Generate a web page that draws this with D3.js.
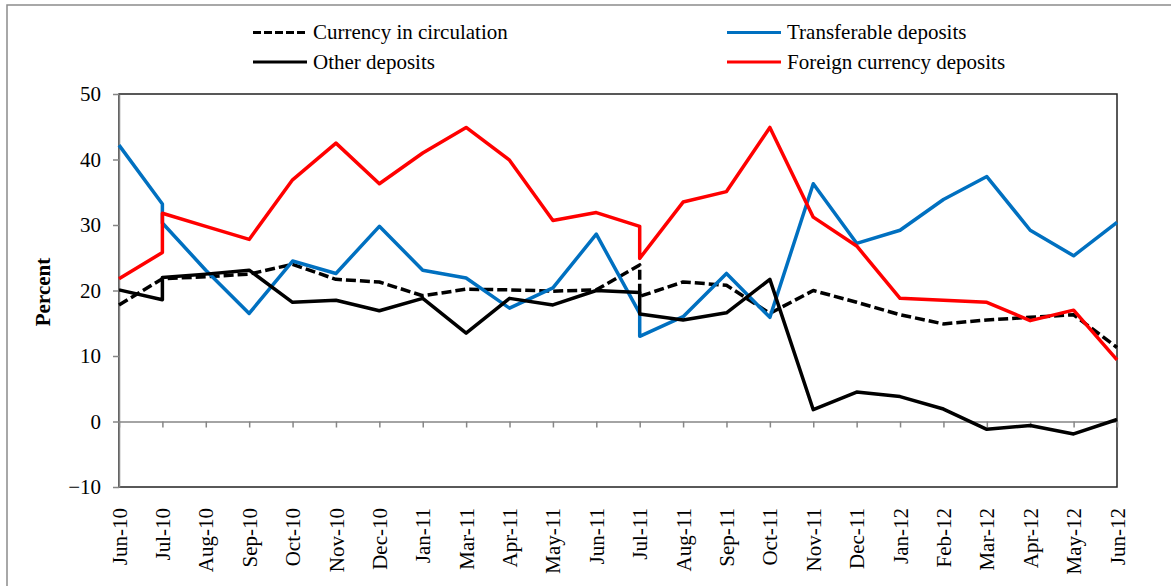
<!DOCTYPE html>
<html>
<head>
<meta charset="utf-8">
<script src="https://cdn.jsdelivr.net/npm/d3@7"></script>
<style>
  html, body { margin: 0; padding: 0; background: #fff; }
  svg { display: block; }
  svg text { font-family: "Liberation Serif", "Times New Roman", serif; }
</style>
</head>
<body>
<svg id="chart" width="1171" height="586"></svg>
<script>
// months on the category axis (Feb-11 is not in the source table)
const months = ["Jun-10", "Jul-10", "Aug-10", "Sep-10", "Oct-10", "Nov-10", "Dec-10",
  "Jan-11", "Mar-11", "Apr-11", "May-11", "Jun-11", "Jul-11", "Aug-11", "Sep-11",
  "Oct-11", "Nov-11", "Dec-11", "Jan-12", "Feb-12", "Mar-12", "Apr-12", "May-12", "Jun-12"];

const currency     = [17.8, 21.8, 22.1, 22.5, 24.0, 21.7, 21.3, 19.2, 20.2, 20.1, 19.9, 20.1,
                      19.1, 21.3, 20.8, 16.5, 20.0, 18.2, 16.3, 14.9, 15.5, 15.9, 16.3, 11.3];
const transferable = [42.2, 30.3, 23.1, 16.5, 24.5, 22.6, 29.8, 23.1, 21.9, 17.3, 20.4, 28.6,
                      13.0, 16.0, 22.6, 15.9, 36.3, 27.2, 29.2, 33.9, 37.4, 29.2, 25.3, 30.4];
const other        = [20.1, 22.0, 22.5, 23.1, 18.2, 18.5, 16.9, 18.8, 13.5, 18.8, 17.8, 20.0,
                      16.4, 15.5, 16.6, 21.7, 1.8, 4.5, 3.8, 1.9, -1.2, -0.6, -1.9, 0.3];
const foreign      = [21.8, 31.8, 29.8, 27.8, 36.9, 42.5, 36.3, 41.0, 44.9, 39.9, 30.7, 31.9,
                      24.9, 33.5, 35.1, 44.9, 31.2, 26.8, 18.8, 18.5, 18.2, 15.4, 17.0, 9.4];

// series breaks: value before the break at these months
const breakMonths       = ["Jul-10", "Jul-11"];
const currencyBreak     = [21.8, 23.9];
const transferableBreak = [33.2, 16.5];
const otherBreak        = [18.6, 19.7];
const foreignBreak      = [25.8, 29.8];

const yTicks = [-10, 0, 10, 20, 30, 40, 50];

const series = [
  { name: "Currency in circulation", values: currency, brk: currencyBreak, color: "#000", dash: "10,4" },
  { name: "Transferable deposits", values: transferable, brk: transferableBreak, color: "#0070C0", dash: null },
  { name: "Other deposits", values: other, brk: otherBreak, color: "#000", dash: null },
  { name: "Foreign currency deposits", values: foreign, brk: foreignBreak, color: "#FF0000", dash: null }
];

const svg = d3.select("#chart");

const plotLeft = 119, plotRight = 1117, plotTop = 94, plotBottom = 487;

const x = d3.scalePoint().domain(months).range([plotLeft, plotRight]);
const y = d3.scaleLinear().domain([-10, 50]).range([plotBottom, plotTop]);

// outer frame
svg.append("rect")
  .attr("x", 7).attr("y", 5)
  .attr("width", 1190).attr("height", 600)
  .attr("fill", "none")
  .attr("stroke", "#8c8c8c")
  .attr("stroke-width", 1.5);

// plot border
svg.append("rect")
  .attr("x", plotLeft).attr("y", plotTop)
  .attr("width", plotRight - plotLeft).attr("height", plotBottom - plotTop)
  .attr("fill", "none")
  .attr("stroke", "#222")
  .attr("stroke-width", 1.5);

// y axis
const yAxis = svg.append("g")
  .attr("transform", `translate(${plotLeft},0)`)
  .call(d3.axisLeft(y).tickValues(yTicks).tickSize(6).tickPadding(12).tickSizeOuter(0));
yAxis.select(".domain").attr("stroke", "#868686").attr("stroke-width", 1.5);
yAxis.selectAll(".tick line").attr("stroke", "#868686").attr("stroke-width", 1.5);
yAxis.selectAll(".tick text")
  .attr("font-size", 21)
  .attr("fill", "#000");

// category axis sits on zero
const xAxis = svg.append("g")
  .attr("transform", `translate(0,${y(0)})`)
  .call(d3.axisBottom(x).tickSize(6).tickSizeOuter(0).tickFormat(""));
xAxis.select(".domain").attr("stroke", "#868686").attr("stroke-width", 1.5);
xAxis.selectAll(".tick line").attr("stroke", "#868686").attr("stroke-width", 1.5);

// month labels below plot, rotated
svg.append("g").selectAll("text")
  .data(months)
  .enter().append("text")
    .attr("transform", d => `translate(${x(d)},${plotBottom + 21}) rotate(-90)`)
    .attr("text-anchor", "end")
    .attr("dy", "0.36em")
    .attr("font-size", 21)
    .text(d => d);

// y title
svg.append("text")
  .attr("transform", `translate(43,292) rotate(-90)`)
  .attr("text-anchor", "middle")
  .attr("dy", "0.35em")
  .attr("font-size", 21)
  .attr("font-weight", "bold")
  .text("Percent");

// lines
function points(s) {
  const pts = [];
  months.forEach((m, i) => {
    const b = breakMonths.indexOf(m);
    if (b >= 0) pts.push({ m, v: s.brk[b] });
    pts.push({ m, v: s.values[i] });
  });
  return pts;
}

const line = d3.line().x(d => x(d.m)).y(d => y(d.v));

svg.append("g").selectAll("path")
  .data(series)
  .enter().append("path")
    .attr("d", d => line(points(d)))
    .attr("fill", "none")
    .attr("stroke", d => d.color)
    .attr("stroke-width", 3.5)
    .attr("stroke-linejoin", "round")
    .attr("stroke-dasharray", d => d.dash);

// legend, two columns
const legendPos = [
  { x: 253, y: 32.5 }, { x: 727, y: 32.5 },
  { x: 253, y: 62 }, { x: 727, y: 62 }
];
const legend = svg.append("g").selectAll("g")
  .data(series)
  .enter().append("g")
    .attr("transform", (d, i) => `translate(${legendPos[i].x},${legendPos[i].y})`);
legend.append("line")
  .attr("x1", 0).attr("x2", 54)
  .attr("stroke", d => d.color)
  .attr("stroke-width", 3)
  .attr("stroke-dasharray", d => d.dash ? "8,3" : null);
legend.append("text")
  .attr("x", 60)
  .attr("dy", "0.33em")
  .attr("font-size", 21)
  .text(d => d.name);
</script>
</body>
</html>
